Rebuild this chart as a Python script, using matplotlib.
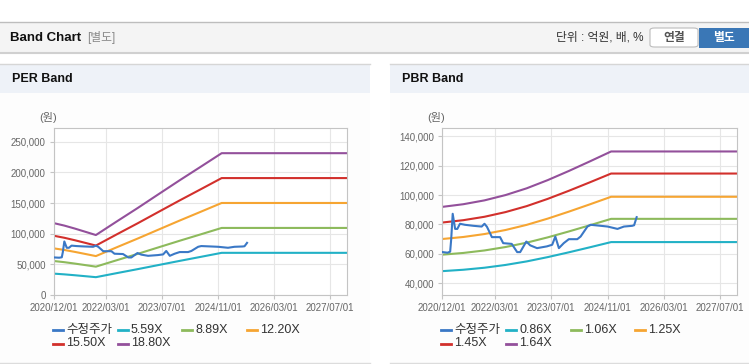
import pandas as pd
import matplotlib
matplotlib.use("Agg")
import matplotlib.pyplot as plt
import matplotlib.dates as mdates
from matplotlib.patches import Rectangle, FancyBboxPatch
from matplotlib.lines import Line2D
from matplotlib.ticker import FuncFormatter, MultipleLocator

plt.rcParams['font.family'] = ['Liberation Sans', 'Noto Sans CJK KR', 'DejaVu Sans']

# 수정주가 (원)
price_dates = ["2020-12-05", "2021-01-15", "2021-02-07", "2021-02-16", "2021-03-01", "2021-03-22",
               "2021-04-10", "2021-05-03", "2021-06-15", "2021-08-28", "2021-11-07", "2021-12-01",
               "2021-12-22", "2022-01-18", "2022-02-03", "2022-04-15", "2022-05-12", "2022-07-25",
               "2022-09-10", "2022-10-06", "2022-11-28", "2023-01-01", "2023-03-01", "2023-05-25",
               "2023-07-10", "2023-08-06", "2023-09-06", "2023-10-18", "2023-12-01", "2024-02-12",
               "2024-03-12", "2024-05-10", "2024-06-06", "2024-09-03", "2024-11-01", "2025-01-25",
               "2025-03-22", "2025-06-01", "2025-06-18", "2025-07-10"]
price_values = [61200, 60800, 61500, 70000, 87300, 77000,
                77000, 80500, 79800, 79100, 78600, 80500,
                78500, 74100, 71400, 71400, 67300, 66800,
                61200, 61200, 68400, 65800, 63900, 65100,
                66200, 71800, 63900, 67300, 70000, 70000,
                71800, 78600, 79800, 79100, 78600, 77000,
                78600, 79100, 79500, 85000]

# PER band: EPS (원) x 배수
eps_dates = ["2020-12-01", "2021-03-01", "2021-06-01", "2021-09-01", "2021-12-01", "2022-06-01",
             "2022-12-01", "2023-06-01", "2023-12-01", "2024-06-01", "2024-12-01", "2027-12-01"]
eps_values = [6230, 6020, 5760, 5480, 5200, 6380, 7550, 8750, 9950, 11120, 12300, 12300]
per_multiples = [5.59, 8.89, 12.20, 15.50, 18.80]

# PBR band: BPS (원) x 배수
bps_dates = ["2020-12-01", "2021-06-01", "2021-12-01", "2022-06-01", "2022-12-01", "2023-06-01",
             "2023-12-01", "2024-06-01", "2024-12-01", "2027-12-01"]
bps_values = [56100, 57200, 58800, 61000, 63800, 67200, 71000, 75000, 79100, 79100]
pbr_multiples = [0.86, 1.06, 1.25, 1.45, 1.64]

price_label = "수정주가"
x_ticks = ["2020-12-01", "2022-03-01", "2023-07-01", "2024-11-01", "2026-03-01", "2027-07-01"]
x_range = ["2020-12-01", "2027-11-28"]

price_color = "#3a78c6"
band_colors = ["#22b1c6", "#8dba5c", "#f6a532", "#d2302c", "#93509b"]

W, H = 749, 364
fig = plt.figure(figsize=(W / 100, H / 100), dpi=100)


def fx(x):
    return x / W


def fy(y):
    return 1 - y / H


def rect(x0, y0, x1, y1, color, **kw):
    fig.add_artist(Rectangle((fx(x0), fy(y1)), (x1 - x0) / W, (y1 - y0) / H,
                             transform=fig.transFigure, facecolor=color, edgecolor='none',
                             zorder=-2, **kw))


def hline(x0, x1, y, color, lw=1.0):
    fig.add_artist(Line2D([fx(x0), fx(x1)], [fy(y), fy(y)], transform=fig.transFigure,
                          color=color, lw=lw, zorder=-1))


# 상단 헤더
rect(0, 22, W, 52, "#f4f4f4")
hline(0, W, 22, "#bdbdbd")
hline(0, W, 52.5, "#d0d0d0", lw=1.5)
fig.text(fx(10), fy(38), "Band Chart", fontsize=9.5, fontweight='bold', color='#111', va='center')
fig.text(fx(87), fy(38), "[별도]", fontsize=8.5, color='#888', va='center')
fig.text(fx(643), fy(38), "단위 : 억원, 배, %", fontsize=8.5, color='#333', va='center', ha='right')
fig.add_artist(FancyBboxPatch((fx(650), fy(47)), fx(48), 19 / H, boxstyle="round,pad=0,rounding_size=0.006",
                              transform=fig.transFigure, facecolor='white', edgecolor='#bcbcbc', lw=0.8))
fig.text(fx(674), fy(38), "연결", fontsize=8.5, fontweight='bold', color='#555', va='center', ha='center')
rect(699, 28, W, 47.5, "#3a77b6")
fig.text(fx(724), fy(38), "별도", fontsize=8.5, fontweight='bold', color='white', va='center', ha='center')

# 패널 배경
for x0, x1 in [(0, 370), (390, W)]:
    rect(x0, 64, x1, 363, "#fdfdfd")
    rect(x0, 64, x1, 93, "#eef2f8")
    hline(x0, x1, 64, "#d6d6d6")
    hline(x0, x1, 362.5, "#dcdcdc")

fig.text(fx(12), fy(79), "PER Band", fontsize=9, fontweight='bold', color='#111', va='center')
fig.text(fx(402), fy(79), "PBR Band", fontsize=9, fontweight='bold', color='#111', va='center')


def band_chart(ax_left, ax_right, ylim, ystep, base_dates, base_values, multiples):
    ax = fig.add_axes([fx(ax_left), fy(295), (ax_right - ax_left) / W, (295 - 128) / H])
    ax.set_zorder(2)
    bd = pd.to_datetime(base_dates)
    handles = []
    for m, c in zip(multiples, band_colors):
        ln, = ax.plot(bd, [v * m for v in base_values], color=c, lw=1.5, zorder=2)
        handles.append((ln, f"{m:.2f}X"))
    pl, = ax.plot(pd.to_datetime(price_dates), price_values, color=price_color, lw=1.5, zorder=3)
    handles.insert(0, (pl, price_label))

    ax.set_xlim(pd.to_datetime(x_range))
    ax.set_ylim(*ylim)
    ax.set_xticks(pd.to_datetime(x_ticks))
    ax.xaxis.set_major_formatter(mdates.DateFormatter('%Y/%m/%d'))
    ax.yaxis.set_major_locator(MultipleLocator(ystep))
    ax.yaxis.set_major_formatter(FuncFormatter(lambda v, p: f"{v:,.0f}"))
    ax.grid(True, color='#e6e6e6', lw=0.8)
    ax.set_axisbelow(True)
    for s in ax.spines.values():
        s.set_color('#c4c4c4')
        s.set_linewidth(0.8)
    ax.set_facecolor('white')
    ax.tick_params(axis='both', length=3, width=0.8, color='#c4c4c4', labelsize=7,
                   labelcolor='#666', pad=3)
    fig.text(fx(ax_left - 6), fy(118), "(원)", fontsize=8, color='#666', va='center', ha='center')

    # 범례 (행 우선 배치)
    for i, (ln, lab) in enumerate(handles):
        col, row = i % 4, i // 4
        x0 = ax_left - 1 + col * 64.7
        y0 = 330 + row * 13.5
        fig.add_artist(Line2D([fx(x0), fx(x0 + 10)], [fy(y0), fy(y0)], transform=fig.transFigure,
                              color=ln.get_color(), lw=2))
        fig.text(fx(x0 + 13), fy(y0), lab, fontsize=9, color='#333', va='center', ha='left')
    return ax


band_chart(54, 347, (0, 272300), 50000, eps_dates, eps_values, per_multiples)
band_chart(442.3, 737.3, (32000, 145700), 20000, bps_dates, bps_values, pbr_multiples)

fig.savefig("out.png", dpi=100)
